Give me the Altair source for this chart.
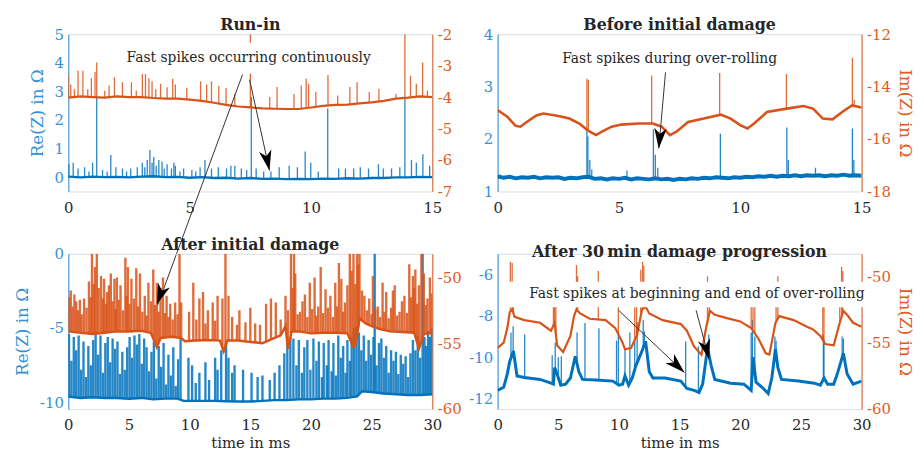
import altair as alt
import pandas as pd

BLUE = "#0072BD"
ORANGE = "#D95319"
BLUE_AX = "#3590D6"
ORANGE_AX = "#DE5C24"
INK = "#262626"
FONT = "DejaVu Serif"
ARROW = "M0,0L0.62,2L0,1.45L-0.62,2Z"

# ---------------- panel texts / axes ----------------
TITLES = ["Run-in", "Before initial damage", "After initial damage",
          "After 30\u2009min damage progression"]
X_TICKS_15 = [0, 5, 10, 15]
X_TICKS_30 = [0, 5, 10, 15, 20, 25, 30]
TL_RE_TICKS = [0, 1, 2, 3, 4, 5]
TL_IM_TICKS = [-7, -6, -5, -4, -3, -2]
TR_RE_TICKS = [1, 2, 3, 4]
TR_IM_TICKS = [-18, -16, -14, -12]
BL_RE_TICKS = [-10, -5, 0]
BL_IM_TICKS = [-60, -55, -50]
BR_RE_TICKS = [-12, -10, -8, -6]
BR_IM_TICKS = [-60, -55, -50]

# ---------------- Run-in (top left) ----------------
TL_RE_BASE = [(0, 0.02), (0.5, -0.01), (1, 0.02), (1.5, 0.0), (2, 0.01), (2.5, -0.01), (3, 0.02),
              (3.5, 0.03), (4, 0.0), (4.5, 0.01), (5, -0.02), (5.5, 0.0), (6, -0.03), (6.5, -0.02),
              (7, -0.05), (7.5, -0.03), (8, -0.06), (8.5, -0.05), (9, -0.07), (9.5, -0.06), (10, -0.07),
              (10.5, -0.05), (11, -0.06), (11.5, -0.04), (12, -0.05), (12.5, -0.03), (13, -0.03),
              (13.5, -0.01), (14, -0.01), (14.5, 0.01), (15, 0.0)]
TL_RE_SPK = [(0.02, 0.0, 0.45), (0.2, 0.0, 0.5), (0.4, 0.0, 0.3), (0.67, 0.0, 0.35), (0.85, 0.0, 0.2),
             (1.0, 0.0, 0.5), (1.17, 0.0, 2.85), (1.41, 0.0, 0.25), (1.6, 0.0, 0.2), (1.75, 0.0, 0.77),
             (1.96, 0.0, 0.35), (2.23, 0.0, 0.3), (2.4, 0.0, 0.2), (2.57, 0.0, 0.3), (2.84, 0.0, 0.35),
             (3.05, 0.0, 0.5), (3.15, 0.0, 0.35), (3.25, 0.0, 0.6), (3.36, 0.0, 0.95), (3.45, 0.0, 0.5),
             (3.52, 0.0, 0.7), (3.62, 0.0, 0.4), (3.73, 0.0, 0.6), (3.86, 0.0, 0.55), (3.95, 0.0, 0.3),
             (4.07, 0.0, 0.45), (4.25, 0.0, 0.3), (4.35, 0.0, 0.5), (4.41, 0.0, 0.4), (4.6, 0.0, 0.2),
             (4.75, 0.0, 0.3), (5.09, 0.0, 0.25), (5.25, 0.0, 0.2), (5.43, 0.0, 0.35), (5.63, 0.0, 0.6),
             (5.9, -0.03, 0.3), (6.18, -0.03, 0.35), (6.52, -0.04, 0.3), (6.7, -0.04, 0.4),
             (6.86, -0.04, 0.4), (7.13, -0.05, 0.3), (7.35, -0.05, 0.25), (7.54, -0.05, 2.8),
             (7.74, -0.05, 0.3), (8.05, -0.06, 0.2), (8.35, -0.06, 0.2), (8.69, -0.07, 0.35),
             (9.1, -0.07, 0.4), (9.44, -0.08, 0.35), (9.76, -0.08, 0.9), (9.99, -0.07, 0.5),
             (10.3, -0.07, 0.2), (10.69, -0.07, 2.4), (11.14, -0.06, 0.3), (11.42, -0.06, 0.3),
             (11.76, -0.05, 0.3), (12.03, -0.05, 0.35), (12.37, -0.04, 0.3), (12.78, -0.03, 0.45),
             (12.98, -0.03, 0.3), (13.32, -0.02, 0.3), (13.66, -0.02, 0.35), (13.87, -0.02, 2.8),
             (14.14, 0.0, 0.6), (14.34, 0.0, 0.5), (14.61, 0.0, 0.8), (14.89, 0.0, 0.4)]
TL_IM_BASE = [(0, -4.02), (0.5, -3.98), (1, -4.0), (1.5, -4.02), (2, -3.98), (2.5, -4.0), (3, -4.0),
              (3.5, -4.03), (4, -4.05), (4.5, -4.05), (5, -4.08), (5.5, -4.12), (6, -4.18), (6.5, -4.25),
              (7, -4.3), (7.5, -4.33), (8, -4.36), (8.5, -4.37), (9, -4.38), (9.5, -4.38), (10, -4.33),
              (10.5, -4.28), (11, -4.25), (11.5, -4.24), (12, -4.2), (12.5, -4.17), (13, -4.12),
              (13.5, -4.05), (14, -4.02), (14.5, -3.98), (15, -4.0)]
TL_IM_SPK = [(0.0, -4.02, -3.3), (0.1, -4.0, -3.6), (0.25, -4.0, -3.75), (0.4, -3.99, -3.16),
             (0.6, -3.99, -3.16), (0.8, -4.0, -3.75), (0.95, -4.0, -3.4), (1.1, -4.0, -3.2),
             (1.17, -4.0, -2.9), (1.5, -4.02, -3.8), (1.68, -4.0, -3.63), (1.9, -3.98, -3.37),
             (2.23, -3.99, -3.53), (2.6, -4.0, -3.53), (2.8, -4.0, -3.8), (3.05, -4.01, -3.26),
             (3.18, -4.01, -3.26), (3.32, -4.02, -3.4), (3.45, -4.03, -3.5), (3.6, -4.03, -3.75),
             (3.8, -4.04, -3.58), (4.07, -4.05, -3.69), (4.3, -4.05, -3.42), (4.41, -4.05, -3.6),
             (4.88, -4.07, -3.7), (5.45, -4.12, -3.5), (5.7, -4.15, -3.6), (5.9, -4.17, -3.5),
             (6.2, -4.2, -3.65), (6.5, -4.25, -3.71), (6.86, -4.29, -3.9), (7.5, -4.33, -2.0),
             (8.3, -4.36, -4.0), (8.6, -4.37, -3.68), (9.3, -4.38, -3.9), (9.6, -4.37, -3.63),
             (9.8, -4.35, -3.42), (9.9, -4.34, -3.58), (10.2, -4.31, -3.84), (10.7, -4.28, -3.3),
             (11.1, -4.25, -3.95), (11.6, -4.24, -3.68), (11.9, -4.22, -3.53), (12.4, -4.18, -3.84),
             (12.8, -4.14, -3.74), (13.5, -4.05, -3.9), (13.87, -4.03, -2.0), (14.1, -4.02, -3.32),
             (14.34, -4.0, -3.58), (14.6, -3.98, -2.9), (14.8, -3.98, -3.8)]
TL_TEXT = [(7.43, 4.15, "Fast spikes occurring continuously")]
TL_BOX = [(1.76, 13.18, 3.62, 4.7)]
TL_LINES = [(7.47, 3.41, 8.29, 0.23), (7.18, 3.59, 3.67, -4.5)]
TL_HEADS = [(8.29, 0.23, 167.7)]

# ---------------- Before initial damage (top right) ----------------
TR_RE_BASE = [(0, 1.29), (0.25, 1.26), (0.5, 1.28), (0.75, 1.25), (1, 1.27), (1.25, 1.26), (1.5, 1.28),
              (1.75, 1.25), (2, 1.27), (2.25, 1.26), (2.5, 1.27), (2.75, 1.24), (3, 1.26), (3.25, 1.25),
              (3.5, 1.27), (3.75, 1.28), (4, 1.24), (4.25, 1.25), (4.5, 1.23), (4.75, 1.25), (5, 1.24),
              (5.25, 1.26), (5.5, 1.23), (5.75, 1.25), (6, 1.24), (6.25, 1.23), (6.5, 1.25), (6.75, 1.23),
              (7, 1.24), (7.25, 1.22), (7.5, 1.24), (7.75, 1.23), (8, 1.25), (8.25, 1.24), (8.5, 1.26),
              (8.75, 1.25), (9, 1.27), (9.25, 1.26), (9.5, 1.25), (9.75, 1.27), (10, 1.26), (10.25, 1.28),
              (10.5, 1.27), (10.75, 1.29), (11, 1.28), (11.25, 1.3), (11.5, 1.28), (11.75, 1.3),
              (12, 1.29), (12.25, 1.31), (12.5, 1.29), (12.75, 1.31), (13, 1.3), (13.25, 1.31),
              (13.5, 1.29), (13.75, 1.31), (14, 1.3), (14.25, 1.32), (14.5, 1.3), (14.75, 1.31), (15, 1.3)]
TR_RE_SPK = [(3.68, 1.27, 2.15), (3.72, 1.27, 2.05), (3.8, 1.26, 1.6), (3.88, 1.25, 1.42),
             (5.33, 1.25, 1.4), (6.42, 1.24, 2.18), (6.5, 1.24, 1.7), (6.6, 1.24, 1.45),
             (9.18, 1.26, 2.1), (11.92, 1.29, 2.22), (11.98, 1.29, 1.6), (13.1, 1.3, 1.45),
             (14.62, 1.31, 2.2), (14.68, 1.31, 1.6)]
TR_IM_BASE = [(0, -14.9), (0.4, -15.15), (0.74, -15.5), (0.94, -15.53), (1.2, -15.35), (1.6, -15.1),
              (1.88, -15.03), (2.4, -15.1), (2.96, -15.22), (3.37, -15.41), (3.7, -15.66), (4.05, -15.85),
              (4.3, -15.72), (4.7, -15.53), (5.1, -15.45), (5.8, -15.41), (6.4, -15.41), (6.76, -15.53),
              (7.1, -15.85), (7.37, -15.72), (7.85, -15.35), (8.5, -15.22), (9.2, -15.07), (9.6, -15.22),
              (10.0, -15.47), (10.3, -15.6), (10.57, -15.41), (11.1, -14.97), (11.92, -14.84),
              (12.6, -14.74), (13.0, -14.84), (13.4, -15.22), (13.8, -15.25), (14.2, -14.97),
              (14.6, -14.72), (15, -14.8)]
TR_IM_SPK = [(3.68, -15.6, -13.7), (3.74, -15.65, -13.75), (6.35, -15.41, -13.58),
             (9.15, -15.08, -13.48), (11.9, -14.84, -13.52), (14.62, -14.72, -12.9),
             (14.7, -14.72, -14.5)]
TR_TEXT = [(7.09, 3.53, "Fast spikes during over-rolling")]
TR_BOX = [(2.2, 12.0, 3.29, 3.76)]
TR_LINES = [(6.92, 3.27, 6.64, 1.82)]
TR_HEADS = [(6.64, 1.82, 185.0)]

# ---------------- After initial damage (bottom left) ----------------
BL_RE_BASE = [(0, -9.6), (1, -9.7), (2, -9.65), (3, -9.7), (4, -9.7), (5, -9.75), (6, -9.7), (7, -9.8),
              (8, -9.75), (9, -9.75), (9.5, -9.9), (10, -9.9), (11, -9.9), (12, -9.9), (13, -9.92),
              (14, -9.95), (15, -9.95), (16, -9.9), (17, -9.85), (18, -9.85), (19, -9.8), (20, -9.8),
              (21, -9.75), (22, -9.75), (23, -9.7), (23.8, -9.6), (24.2, -9.25), (25, -9.3), (26, -9.4),
              (27, -9.45), (28, -9.5), (29, -9.5), (30, -9.45)]
BL_RE_SPK = [(0.05, -9.6, -5.4), (0.25, -9.62, -7.2), (0.45, -9.64, -5.6), (0.65, -9.66, -6.5),
             (0.85, -9.68, -5.5), (1.05, -9.7, -7.8), (1.25, -9.69, -5.9), (1.45, -9.68, -8.3),
             (1.65, -9.67, -6.2), (1.85, -9.66, -7.5), (2.05, -9.65, -5.8), (2.25, -9.66, -5.2),
             (2.45, -9.67, -6.8), (2.65, -9.68, -5.5), (2.85, -9.69, -8.0), (3.05, -9.7, -6.0),
             (3.25, -9.7, -5.6), (3.45, -9.7, -7.3), (3.65, -9.7, -5.7), (3.85, -9.7, -6.4),
             (4.05, -9.7, -5.9), (4.25, -9.71, -8.1), (4.45, -9.72, -6.6), (4.65, -9.73, -7.8),
             (4.85, -9.74, -6.3), (5.05, -9.75, -5.6), (5.25, -9.74, -7.0), (5.45, -9.73, -5.5),
             (5.65, -9.72, -6.1), (5.85, -9.71, -5.4), (6.05, -9.7, -7.4), (6.25, -9.72, -5.7),
             (6.45, -9.74, -6.3), (6.65, -9.76, -7.9), (6.85, -9.78, -6.6), (7.05, -9.8, -5.9),
             (7.25, -9.79, -8.4), (7.45, -9.78, -6.2), (7.65, -9.77, -7.6), (7.85, -9.76, -6.0),
             (8.05, -9.75, -8.8), (8.25, -9.75, -6.8), (8.45, -9.75, -8.2), (8.65, -9.75, -6.3),
             (8.85, -9.75, -8.9), (9.05, -9.75, -7.1), (9.25, -9.8, -5.6),
             (9.9, -9.9, -7.0), (10.2, -9.9, -7.5), (10.5, -9.9, -8.7), (10.8, -9.9, -8.0),
             (11.3, -9.9, -7.3), (11.6, -9.9, -8.5), (12.1, -9.9, -7.0), (12.3, -9.9, -7.8),
             (12.6, -9.91, -6.5), (13.0, -9.92, -6.0), (13.2, -9.92, -7.0), (13.5, -9.93, -8.0),
             (13.7, -9.94, -7.5), (14.4, -9.95, -7.8), (15.1, -9.95, -8.0), (15.6, -9.93, -8.3),
             (16.0, -9.9, -8.2), (16.6, -9.88, -8.5), (17.0, -9.85, -8.0), (17.4, -9.85, -7.5),
             (17.8, -9.85, -6.7),
             (18.05, -9.85, -6.0), (18.3, -9.84, -5.6), (18.55, -9.83, -5.7), (18.8, -9.82, -7.5),
             (19.0, -9.8, -5.8), (19.25, -9.8, -8.0), (19.45, -9.8, -6.3), (19.7, -9.8, -5.8),
             (19.95, -9.8, -7.8), (20.2, -9.79, -5.7), (20.45, -9.78, -7.2), (20.65, -9.77, -5.9),
             (20.9, -9.76, -8.3), (21.05, -9.75, -6.0), (21.3, -9.75, -7.5), (21.45, -9.75, -5.8),
             (21.7, -9.75, -7.9), (21.85, -9.75, -6.0), (22.05, -9.75, -8.2), (22.25, -9.74, -5.5),
             (22.45, -9.73, -7.0), (22.65, -9.72, -6.2), (22.85, -9.71, -8.0), (23.0, -9.7, -5.8),
             (23.2, -9.68, -7.2), (23.35, -9.66, -5.6), (23.55, -9.63, -5.0), (23.75, -9.6, -4.9),
             (23.95, -9.45, -5.3),
             (24.15, -9.28, -6.5), (24.35, -9.26, -5.5), (24.55, -9.27, -7.2), (24.75, -9.29, -5.8),
             (24.95, -9.3, -6.8), (25.15, -9.31, -5.6), (25.25, -9.32, 0.0), (25.4, -9.33, -7.5),
             (25.6, -9.35, -6.0), (25.8, -9.37, -5.7), (26.0, -9.4, -7.0), (26.2, -9.41, -6.2),
             (26.4, -9.42, -8.0), (26.6, -9.43, -6.5), (26.8, -9.44, -7.2), (27.0, -9.45, -6.6),
             (27.2, -9.46, -8.1), (27.4, -9.47, -6.8), (27.6, -9.48, -7.4), (27.8, -9.49, -6.9),
             (28.0, -9.5, -8.3), (28.2, -9.5, -6.7), (28.4, -9.5, -5.8), (28.6, -9.5, -6.5),
             (28.8, -9.5, -5.5), (29.0, -9.5, -7.0), (29.2, -9.5, 0.0), (29.35, -9.49, -5.6),
             (29.5, -9.48, -6.2), (29.65, -9.47, -5.2), (29.8, -9.46, -5.6), (29.95, -9.45, -5.0)]
BL_IM_BASE = [(0, -54.1), (1, -54.2), (2, -54.3), (3, -54.2), (4, -54.1), (5, -54.1), (6, -54.05),
              (6.8, -54.2), (7.3, -55.3), (7.6, -54.6), (8.5, -54.5), (9.3, -54.6), (9.6, -54.85),
              (10.5, -54.8), (11.5, -54.75), (12.5, -54.8), (12.8, -55.6), (13.1, -54.8), (14, -54.8),
              (15, -54.9), (16, -55.0), (17, -54.6), (17.5, -54.4), (17.9, -53.7), (18.1, -55.4),
              (18.4, -54.1), (19, -54.1), (20, -54.25), (21, -54.2), (22, -54.2), (23, -54.25),
              (23.5, -55.3), (23.7, -55.0), (24.0, -53.1), (24.5, -53.5), (25, -53.7), (25.6, -53.9),
              (26.5, -54.1), (27.5, -54.15), (28.5, -54.2), (28.9, -55.4), (29.3, -54.3), (30, -54.2)]
BL_IM_SPK = [(0.05, -54.1, -51.5), (0.2, -54.12, -51.0), (0.35, -54.14, -52.2), (0.5, -54.15, -51.3),
             (0.65, -54.17, -51.8), (0.8, -54.18, -52.5), (0.95, -54.2, -51.7), (1.1, -54.21, -52.8),
             (1.3, -54.23, -51.6), (1.5, -54.25, -52.3), (1.7, -54.27, -50.3), (1.85, -54.28, -51.5),
             (1.95, -54.3, -48.2), (2.1, -54.3, -50.5), (2.2, -54.3, -49.2), (2.35, -54.28, -48.2),
             (2.5, -54.27, -50.8), (2.7, -54.25, -49.9), (2.85, -54.22, -51.6), (2.95, -54.2, -50.1),
             (3.1, -54.2, -52.0), (3.2, -54.18, -51.1), (3.35, -54.17, -50.6), (3.5, -54.15, -49.7),
             (3.65, -54.13, -51.8), (3.8, -54.12, -50.1), (3.9, -54.11, -52.4), (4.0, -54.1, -50.0),
             (4.15, -54.1, -51.7), (4.3, -54.1, -50.6), (4.5, -54.1, -52.5), (4.7, -54.1, -48.5),
             (4.8, -54.1, -51.4), (4.9, -54.1, -49.2), (5.05, -54.1, -52.0), (5.2, -54.1, -50.1),
             (5.4, -54.09, -51.6), (5.6, -54.08, -49.3), (5.75, -54.07, -52.2), (5.9, -54.06, -49.7),
             (6.1, -54.08, -52.6), (6.3, -54.12, -51.4), (6.45, -54.14, -52.9), (6.6, -54.17, -50.4),
             (6.8, -54.2, -51.8), (7.0, -54.6, -49.4), (7.15, -54.9, -52.1), (7.3, -55.3, -50.4),
             (7.45, -54.9, -52.6), (7.6, -54.6, -50.8), (7.8, -54.58, -50.0), (7.95, -54.56, -52.7),
             (8.1, -54.54, -51.4), (8.25, -54.52, -53.0), (8.4, -54.5, -52.0), (8.6, -54.52, -53.2),
             (8.8, -54.55, -51.9), (9.0, -54.57, -52.8), (9.16, -54.59, -48.2), (9.3, -54.6, -51.9),
             (9.95, -54.84, -52.6), (10.3, -54.82, -50.4), (10.55, -54.8, -53.2), (10.8, -54.79, -51.6),
             (11.1, -54.77, -51.1), (11.3, -54.76, -53.5), (11.5, -54.75, -52.5), (11.9, -54.77, -51.9),
             (12.1, -54.78, -53.3), (12.3, -54.79, -51.4), (12.7, -55.3, -51.6), (12.95, -55.2, -48.2),
             (13.2, -54.8, -51.4), (13.5, -54.8, -53.0), (13.9, -54.8, -53.6), (14.1, -54.81, -52.5),
             (14.6, -54.85, -53.4), (15.0, -54.9, -52.3), (15.4, -54.94, -53.5), (15.8, -54.98, -53.6),
             (16.3, -54.9, -52.0), (16.7, -54.7, -51.6), (17.1, -54.56, -51.9), (17.5, -54.4, -53.2),
             (17.9, -53.7, -51.4),
             (18.1, -55.4, -52.5), (18.35, -54.2, -48.2), (18.5, -54.1, -50.8), (18.6, -54.1, -48.2),
             (18.7, -54.1, -49.7), (18.9, -54.1, -52.8), (19.1, -54.11, -52.6), (19.3, -54.14, -51.8),
             (19.5, -54.18, -51.3), (19.7, -54.21, -53.0), (19.9, -54.24, -50.4), (20.1, -54.25, -52.4),
             (20.3, -54.24, -50.0), (20.45, -54.23, -52.9), (20.6, -54.22, -52.2), (20.8, -54.21, -49.2),
             (21.0, -54.2, -52.7), (21.2, -54.2, -50.9), (21.4, -54.2, -52.3), (21.6, -54.2, -51.4),
             (21.8, -54.2, -53.0), (22.0, -54.2, -50.4), (22.15, -54.21, -52.2), (22.3, -54.22, -48.9),
             (22.5, -54.22, -50.1), (22.65, -54.23, -52.6), (22.8, -54.24, -51.9), (23.0, -54.25, -50.6),
             (23.2, -54.7, -48.2), (23.35, -55.1, -49.5), (23.5, -55.3, -48.2), (23.65, -55.1, -50.5),
             (23.8, -54.4, -48.2), (23.9, -53.8, -49.0), (24.0, -53.1, -48.2), (24.2, -53.3, -51.0),
             (24.4, -53.45, -51.4), (24.6, -53.55, -52.5), (24.8, -53.6, -51.6), (25.0, -53.7, -52.8),
             (25.1, -53.72, -49.9), (25.3, -53.78, -52.4), (25.5, -53.85, -52.2), (25.7, -53.92, -53.0),
             (25.9, -53.97, -50.4), (26.05, -54.0, -52.6), (26.2, -54.03, -51.1), (26.4, -54.08, -53.1),
             (26.6, -54.11, -52.3), (26.75, -54.12, -51.0), (26.9, -54.13, -50.6), (27.1, -54.14, -52.9),
             (27.3, -54.14, -52.6), (27.5, -54.15, -51.8), (27.7, -54.16, -51.4), (27.9, -54.17, -52.7),
             (28.1, -54.18, -49.0), (28.25, -54.19, -51.5), (28.4, -54.2, -49.9), (28.5, -54.2, -50.8),
             (28.6, -54.5, -49.4), (28.75, -55.0, -52.0), (28.9, -55.4, -50.6), (29.1, -54.9, -48.2),
             (29.3, -54.3, -49.7), (29.45, -54.28, -52.1), (29.6, -54.26, -51.6), (29.8, -54.23, -50.0),
             (29.95, -54.2, -51.2)]
BL_HEADS = [(7.3, -3.4, 200.3)]

# ---------------- After 30 min damage progression (bottom right) ----------------
BR_RE_BASE = [(0, -11.6), (0.5, -11.45), (0.8, -10.8), (1.0, -10.2), (1.3, -9.7), (1.6, -10.9),
              (2.2, -10.98), (3.5, -11.07), (4.4, -11.25), (4.6, -11.3), (4.7, -10.5), (4.9, -10.8),
              (5.2, -11.35), (5.6, -11.3), (6.0, -11.0), (6.4, -9.95), (6.7, -10.7), (7.0, -11.07),
              (8.1, -11.1), (9.5, -11.15), (10.0, -11.35), (10.3, -11.3), (10.5, -10.9), (10.8, -11.35),
              (11.1, -11.0), (11.4, -10.4), (11.9, -9.7), (12.2, -9.23), (12.5, -10.7), (12.8, -11.0),
              (13.8, -11.0), (15.1, -11.15), (15.6, -11.5), (16.2, -11.6), (16.6, -11.7), (16.9, -11.3),
              (17.3, -9.55), (17.6, -10.4), (17.9, -11.07), (19.2, -11.25), (20.3, -11.3), (20.9, -11.6),
              (21.05, -10.0), (21.3, -11.2), (21.8, -11.45), (22.3, -11.75), (22.6, -11.0), (22.9, -9.6),
              (23.1, -10.5), (23.4, -11.07), (24.8, -11.15), (26.1, -11.25), (26.6, -11.35),
              (26.9, -11.0), (27.2, -11.3), (27.7, -11.3), (28.0, -10.8), (28.3, -10.2), (28.5, -9.8),
              (28.8, -10.8), (29.3, -11.3), (30, -11.15)]
BR_RE_SPK = [(1.1, -10.1, -8.8), (1.28, -9.8, -8.5), (2.23, -10.98, -8.9), (4.5, -11.25, -9.9),
             (4.75, -10.6, -9.3), (5.0, -11.1, -10.0), (5.25, -11.3, -9.95), (6.55, -10.3, -8.8),
             (7.2, -11.08, -8.35), (8.35, -11.1, -8.6), (9.8, -11.3, -9.2), (9.95, -11.3, -8.9),
             (10.5, -10.9, -9.6), (10.9, -11.3, -8.8), (11.3, -10.6, -9.1), (11.5, -10.3, -8.3),
             (12.0, -9.5, -8.2), (12.1, -9.3, -8.75), (15.5, -11.45, -9.24), (16.55, -11.7, -9.47),
             (17.4, -9.6, -8.9), (20.9, -11.5, -8.8), (21.0, -10.5, -8.2), (21.2, -11.0, -9.0),
             (22.85, -9.8, -9.0), (22.95, -9.7, -9.2), (26.85, -11.1, -8.9), (26.9, -11.0, -9.15),
             (28.4, -10.0, -9.0), (28.5, -9.8, -9.1)]
BR_IM_BASE = [(0, -55.4), (0.5, -55.0), (0.8, -53.9), (1.0, -52.7), (1.2, -52.5), (1.4, -53.05),
              (2.2, -53.3), (3.5, -53.5), (4.4, -54.1), (4.7, -53.5), (4.9, -55.2), (5.4, -55.7),
              (6.0, -54.5), (6.3, -53.0), (6.5, -52.5), (6.8, -52.8), (7.6, -53.2), (8.9, -53.3),
              (9.7, -53.9), (10.3, -55.0), (10.5, -55.5), (11.0, -55.4), (11.5, -54.4), (11.9, -52.5),
              (12.2, -52.3), (12.5, -52.8), (13.6, -53.3), (15.1, -53.6), (15.6, -54.1), (16.2, -55.3),
              (16.8, -55.9), (17.2, -53.8), (17.5, -52.6), (17.9, -52.9), (18.9, -53.15), (20.0, -53.4),
              (20.9, -53.9), (21.5, -54.7), (22.1, -55.8), (22.4, -55.9), (22.9, -53.5), (23.2, -53.0),
              (24.4, -53.3), (25.5, -53.8), (26.0, -54.0), (26.6, -54.5), (27.0, -55.1), (27.7, -55.2),
              (28.2, -53.5), (28.5, -52.6), (28.8, -52.9), (29.3, -53.5), (30, -53.8)]
BR_IM_SPK = [(1.05, -52.7, -48.9), (1.2, -52.5, -49.0), (1.3, -52.8, -50.5), (4.6, -53.8, -51.5),
             (4.7, -53.5, -51.0), (4.8, -54.5, -51.8), (6.5, -52.5, -49.15), (6.6, -52.6, -50.0),
             (8.3, -53.25, -49.6), (9.95, -54.3, -51.5), (11.3, -54.8, -51.2), (11.45, -54.5, -51.8),
             (11.8, -52.8, -49.5), (11.95, -52.5, -48.9), (12.05, -52.3, -49.2), (12.15, -52.3, -50.5),
             (17.3, -53.6, -50.0), (17.45, -52.8, -51.5), (20.9, -53.9, -51.0), (21.05, -54.0, -51.5),
             (21.2, -54.3, -51.2), (22.95, -53.5, -51.5), (23.1, -53.2, -50.0), (26.8, -54.9, -51.5),
             (26.9, -55.0, -51.0), (28.2, -53.5, -50.5), (28.35, -52.9, -49.3), (28.45, -52.6, -49.6)]
BR_TEXT = [(16.42, -6.95, "Fast spikes at beginning and end of over-rolling")]
BR_BOX = [(0.57, 32.0, -7.58, -6.35)]
BR_LINES = [(9.97, -7.73, 15.4, -10.74), (16.36, -7.73, 17.44, -10.1)]
BR_HEADS = [(15.4, -10.74, 133.5), (17.44, -10.1, 165.0)]

W = 368
MINUS = "replace(datum.label, '\u2212', '-')"


def panel(title, H, xdom, xticks, xtitle, re_dom, re_ticks, re_title, im_dom, im_ticks, im_title,
          re_base, re_spk, im_base, im_spk, texts, boxes, lines, heads, bw_re, bw_im, sw):
    xs = alt.Scale(domain=xdom, nice=False, zero=False)
    xax = alt.Axis(values=xticks, title=xtitle, grid=False, ticks=False, tickSize=0, domain=False,
                   labelFlush=False, labelFont=FONT, labelFontSize=15, labelColor=INK, labelPadding=9,
                   titleFont=FONT, titleFontSize=15, titleFontWeight="normal", titleColor=INK,
                   titlePadding=3, labelExpr=MINUS)

    def X(f="t"):
        return alt.X(f"{f}:Q", scale=xs, axis=xax)

    axL = alt.Axis(values=re_ticks, title=re_title, orient="left", grid=False, ticks=False, tickSize=0,
                   domainColor=BLUE_AX, labelColor=BLUE_AX, labelFont=FONT, labelFontSize=15,
                   labelPadding=5, titleFont=FONT, titleFontSize=17, titleFontWeight="normal",
                   titleColor=BLUE_AX, titlePadding=8, labelExpr=MINUS)
    axR = alt.Axis(values=im_ticks, title=im_title, orient="right", grid=False, ticks=False, tickSize=0,
                   domainColor=ORANGE_AX, labelColor=ORANGE_AX, labelFont=FONT, labelFontSize=15,
                   labelPadding=5, titleFont=FONT, titleFontSize=17, titleFontWeight="normal",
                   titleColor=ORANGE_AX, titlePadding=5, labelExpr=MINUS)
    sL = alt.Scale(domain=re_dom, nice=False, zero=False)
    sR = alt.Scale(domain=im_dom, nice=False, zero=False)
    sA = alt.Scale(domain=re_dom, nice=False, zero=False)

    rb = pd.DataFrame(re_base, columns=["t", "v"])
    rs = pd.DataFrame(re_spk, columns=["t", "lo", "hi"])
    ib = pd.DataFrame(im_base, columns=["t", "v"])
    ispk = pd.DataFrame(im_spk, columns=["t", "lo", "hi"])

    blue = alt.layer(
        alt.Chart(rs).mark_rule(color=BLUE, strokeWidth=sw, opacity=0.85, clip=True).encode(
            x=X(), y=alt.Y("lo:Q", scale=sL, axis=axL), y2="hi:Q"),
        alt.Chart(rb).mark_line(color=BLUE, strokeWidth=bw_re, clip=True).encode(
            x=X(), y=alt.Y("v:Q", scale=sL, axis=axL)),
    )
    orange = alt.layer(
        alt.Chart(ispk).mark_rule(color=ORANGE, strokeWidth=sw, opacity=0.85, clip=True).encode(
            x=X(), y=alt.Y("lo:Q", scale=sR, axis=axR), y2="hi:Q"),
        alt.Chart(ib).mark_line(color=ORANGE, strokeWidth=bw_im, clip=True).encode(
            x=X(), y=alt.Y("v:Q", scale=sR, axis=axR)),
    )
    ann_layers = []
    if boxes:
        bx = pd.DataFrame(boxes, columns=["t", "t2", "v", "v2"])
        ann_layers.append(alt.Chart(bx).mark_rect(fill="white", clip=False).encode(
            x=X(), x2="t2:Q", y=alt.Y("v:Q", scale=sA, axis=None), y2="v2:Q"))
    if texts:
        tx = pd.DataFrame(texts, columns=["t", "v", "label"])
        ann_layers.append(alt.Chart(tx).mark_text(font=FONT, fontSize=14, color=INK, align="center",
                                                  baseline="middle").encode(
            x=X(), y=alt.Y("v:Q", scale=sA, axis=None), text="label:N"))
    if lines:
        ln = pd.DataFrame(lines, columns=["t", "v", "t2", "v2"])
        ann_layers.append(alt.Chart(ln).mark_rule(color="#333333", strokeWidth=1, clip=False).encode(
            x=X(), x2="t2:Q", y=alt.Y("v:Q", scale=sA, axis=None), y2="v2:Q"))
    if heads:
        hd = pd.DataFrame(heads, columns=["t", "v", "ang"])
        ann_layers.append(alt.Chart(hd).mark_point(shape=ARROW, filled=True, size=420, color="black",
                                                   opacity=1, clip=False).encode(
            x=X(), y=alt.Y("v:Q", scale=sA, axis=None), angle=alt.Angle("ang:Q", scale=None)))
    ann = alt.layer(*ann_layers)
    return alt.layer(blue, orange, ann).resolve_scale(y="independent").properties(
        width=W, height=H,
        title=alt.TitleParams(title, font=FONT, fontSize=16, fontWeight="bold", color=INK, offset=-6,
                              anchor="middle"))


tl = panel(TITLES[0], 159, [0, 15], X_TICKS_15, None, [-0.5, 5], TL_RE_TICKS, "Re(Z) in \u03a9",
           [-7, -2], TL_IM_TICKS, None, TL_RE_BASE, TL_RE_SPK, TL_IM_BASE, TL_IM_SPK,
           TL_TEXT, TL_BOX, TL_LINES, TL_HEADS, 2.4, 2.2, 1.3)
tr = panel(TITLES[1], 159, [0, 15], X_TICKS_15, None, [1, 4], TR_RE_TICKS, None,
           [-18, -12], TR_IM_TICKS, "Im(Z) in \u03a9", TR_RE_BASE, TR_RE_SPK, TR_IM_BASE, TR_IM_SPK,
           TR_TEXT, TR_BOX, TR_LINES, TR_HEADS, 4.0, 2.6, 1.3)
bl = panel(TITLES[2], 157, [0, 30], X_TICKS_30, "time in ms", [-10.45, 0], BL_RE_TICKS,
           "Re(Z) in \u03a9", [-60, -48.2], BL_IM_TICKS, None, BL_RE_BASE, BL_RE_SPK, BL_IM_BASE,
           BL_IM_SPK, [], [], [], BL_HEADS, 2.5, 2.5, 2.4)
br = panel(TITLES[3], 157, [0, 30], X_TICKS_30, "time in ms", [-12.5, -5], BR_RE_TICKS, None,
           [-60, -48.3], BR_IM_TICKS, "Im(Z) in \u03a9", BR_RE_BASE, BR_RE_SPK, BR_IM_BASE, BR_IM_SPK,
           BR_TEXT, BR_BOX, BR_LINES, BR_HEADS, 3.0, 2.2, 1.3)

chart = alt.concat(tl, tr, bl, br, columns=2, spacing={"row": 63, "column": 66},
                   bounds="flush").properties(
    padding={"left": 5, "top": 6, "right": 2, "bottom": 0}
).configure_view(stroke=INK, strokeWidth=1).configure(background="white")

chart.save("out.html", embed_options={"renderer": "svg", "actions": False})
